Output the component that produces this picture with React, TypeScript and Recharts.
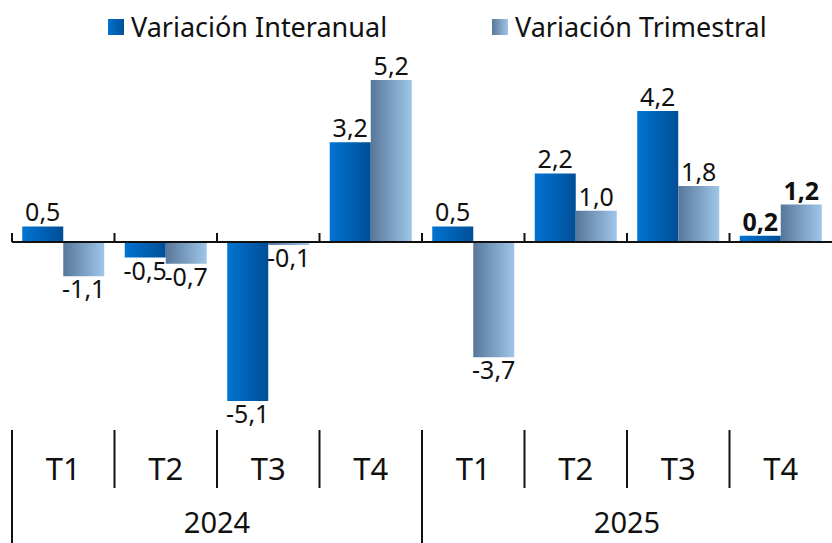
import React from 'react'
import { BarChart, Bar, XAxis, YAxis, ReferenceLine, LabelList } from 'recharts'

const quarters = ['T1', 'T2', 'T3', 'T4', 'T1', 'T2', 'T3', 'T4']
const years = ['2024', '2025']
const interanual = [0.5, -0.5, -5.1, 3.2, 0.5, 2.2, 4.2, 0.2]
const trimestral = [-1.1, -0.7, -0.1, 5.2, -3.7, 1.0, 1.8, 1.2]

const data = quarters.map((q, i) => ({
    key: `${q}-${i}`,
    q,
    interanual: interanual[i],
    trimestral: trimestral[i],
}))

const FONT = '"Noto Sans", "Open Sans", sans-serif'
const W = 832
const H = 543
const LEFT = 12
const BAND = (W - LEFT) / quarters.length

const fmt = (v: number) => v.toFixed(1).replace('.', ',')

// labels above positive bars, below negative ones; last quarter in bold
const BarLabel = (props: any) => {
    const { x, y, width, height, value, index } = props
    const top = Math.min(y, y + height)
    const bottom = Math.max(y, y + height)
    const cx = x + width / 2
    const ty = value >= 0 ? top - 5 : bottom + 22
    return (
        <text
            x={cx}
            y={ty}
            textAnchor="middle"
            fontFamily={FONT}
            fontSize={25}
            fontWeight={index === quarters.length - 1 ? 700 : 400}
            fill="#111"
        >
            {fmt(value)}
        </text>
    )
}

const QuarterTick = (props: any) => {
    const { x, y, payload } = props
    const i = payload.index
    const left = x - BAND / 2
    const yearStart = i % 4 === 0
    return (
        <g>
            <line x1={left} x2={left} y1={y + 1} y2={yearStart ? H : y + 59} stroke="#111" strokeWidth={2} />
            <text x={x} y={y + 51} textAnchor="middle" fontFamily={FONT} fontSize={31} fill="#111">
                {payload.value}
            </text>
            {yearStart && (
                <text x={left + BAND * 2} y={y + 104} textAnchor="middle" fontFamily={FONT} fontSize={29} fill="#111">
                    {years[i / 4]}
                </text>
            )}
        </g>
    )
}

// zero line with small marks at category boundaries
const ZeroLine = (props: any) => {
    const { x1, x2, y1 } = props
    const n = quarters.length
    const step = (x2 - x1) / n
    return (
        <g>
            <line x1={x1} x2={x2} y1={y1} y2={y1} stroke="#111" strokeWidth={2} />
            {Array.from({ length: n }, (_, i) => (
                <line key={i} x1={x1 + i * step} x2={x1 + i * step} y1={y1 - 9} y2={y1} stroke="#111" strokeWidth={2} />
            ))}
        </g>
    )
}

const LegendItem = ({ left, grad, label }: { left: number; grad: string; label: string }) => (
    <div style={{ position: 'absolute', left, top: 8, display: 'flex', alignItems: 'center' }}>
        <span style={{ width: 16, height: 16, background: grad, display: 'inline-block', marginRight: 7 }} />
        <span style={{ fontFamily: FONT, fontSize: 27, color: '#111', lineHeight: '38px' }}>{label}</span>
    </div>
)

const App: React.FC = () => {
    return (
        <div style={{ position: 'relative', width: W, height: H, background: '#fff' }}>
            <style>{'body{margin:0}'}</style>
            <LegendItem left={108} grad="linear-gradient(to right, #0073cf, #004f98)" label="Variación Interanual" />
            <LegendItem left={492} grad="linear-gradient(to right, #58789a, #9fc5e8)" label="Variación Trimestral" />
            <BarChart
                width={W}
                height={H}
                data={data}
                margin={{ top: 55, right: 0, left: LEFT, bottom: 0 }}
                barCategoryGap="10%"
                barGap={0}
            >
                <defs>
                    <linearGradient id="gInter" x1="0" y1="0" x2="1" y2="0">
                        <stop offset="0%" stopColor="#0074d2" />
                        <stop offset="100%" stopColor="#004e96" />
                    </linearGradient>
                    <linearGradient id="gTrim" x1="0" y1="0" x2="1" y2="0">
                        <stop offset="0%" stopColor="#57779a" />
                        <stop offset="100%" stopColor="#9fc6ea" />
                    </linearGradient>
                </defs>
                <XAxis
                    dataKey="key"
                    height={114}
                    axisLine={false}
                    tickLine={false}
                    tickSize={0}
                    tickMargin={0}
                    interval={0}
                    tick={(p: any) => <QuarterTick {...p} payload={{ ...p.payload, value: quarters[p.payload.index] }} />}
                />
                <YAxis hide domain={[-6, 6]} width={0} />
                <Bar dataKey="interanual" fill="url(#gInter)" isAnimationActive={false}>
                    <LabelList dataKey="interanual" content={BarLabel} />
                </Bar>
                <Bar dataKey="trimestral" fill="url(#gTrim)" isAnimationActive={false}>
                    <LabelList dataKey="trimestral" content={BarLabel} />
                </Bar>
                <ReferenceLine y={0} shape={ZeroLine} />
            </BarChart>
        </div>
    )
}

export default App
